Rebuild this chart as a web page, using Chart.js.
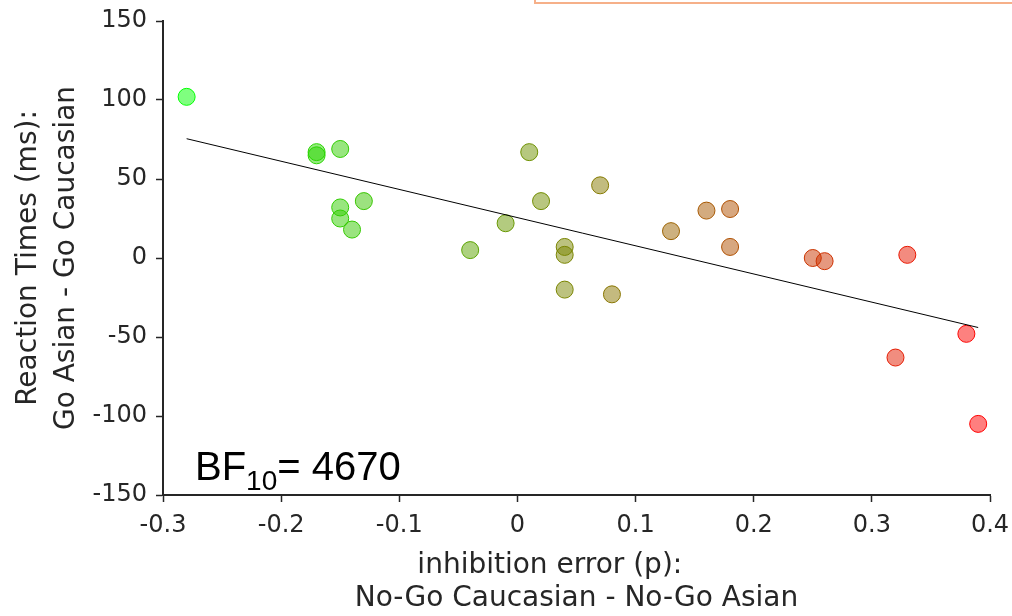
<!DOCTYPE html>
<html lang="en">
<head>
<meta charset="utf-8">
<title>Inhibition error vs reaction times</title>
<script src="https://cdn.jsdelivr.net/npm/chart.js"></script>
<style>
    body { margin: 0; background: #fff; }
    #wrap { position: relative; width: 1012px; height: 616px; overflow: hidden; }
    /* edge of a box that sits above the figure, only its bottom shows */
    #topBox { position: absolute; left: 534px; top: -20px; width: 520px; height: 20px; border: 2px solid #f6b089; }
</style>
</head>
<body>
<div id="wrap">
    <canvas id="scatterChart" width="1012" height="616"></canvas>
    <div id="topBox"></div>
</div>

<script>
    // inhibition error (No-Go Caucasian - No-Go Asian)
    var inhibError = [-0.28, -0.17, -0.17, -0.15, -0.15, -0.15, -0.13, -0.14, -0.04, -0.01,
                      0.01, 0.02, 0.04, 0.04, 0.04, 0.07, 0.08, 0.13, 0.16, 0.18,
                      0.18, 0.25, 0.26, 0.33, 0.32, 0.38, 0.39];
    // reaction times (Go Asian - Go Caucasian), ms
    var rtDiff = [102, 67, 65, 69, 32, 25, 36, 18, 5, 22,
                  67, 36, 7, 2, -20, 46, -23, 17, 30, 31,
                  7, 0, -2, 2, -63, -48, -105];
    // regression line end points
    var fitX = [-0.28, 0.39];
    var fitY = [75.5, -44];

    var xTitle = ['inhibition error (p):      ', 'No-Go Caucasian - No-Go Asian'];
    var yTitle = ['Reaction Times (ms):', 'Go Asian - Go Caucasian'];
    var bfText = { main: 'BF', sub: '10', rest: '= 4670' };

    var axisColor = '#262626';
    var axisFont = '"DejaVu Sans", sans-serif';

    // colour goes from green (low x) to red (high x)
    var xMin = Math.min.apply(null, inhibError);
    var xMax = Math.max.apply(null, inhibError);
    var fillColors = [];
    var edgeColors = [];
    inhibError.forEach(function (x) {
        var t = (x - xMin) / (xMax - xMin);
        var r = Math.round(255 * t);
        var g = Math.round(255 * (1 - t));
        edgeColors.push('rgb(' + r + ',' + g + ',0)');
        fillColors.push('rgba(' + r + ',' + g + ',0,0.5)');
    });

    var points = inhibError.map(function (x, i) { return { x: x, y: rtDiff[i] }; });
    var fitLine = fitX.map(function (x, i) { return { x: x, y: fitY[i] }; });

    var bfLabel = {
        id: 'bfLabel',
        afterDraw: function (chart) {
            var c = chart.ctx;
            var a = chart.chartArea;
            var x = a.left + 32;
            var y = a.bottom - 15;
            c.save();
            c.fillStyle = '#000';
            c.textBaseline = 'alphabetic';
            c.textAlign = 'left';
            c.font = '40px "Liberation Sans", Arial, sans-serif';
            c.fillText(bfText.main, x, y);
            x += c.measureText(bfText.main).width;
            c.font = '28px "Liberation Sans", Arial, sans-serif';
            c.fillText(bfText.sub, x, y + 10);
            x += c.measureText(bfText.sub).width;
            c.font = '40px "Liberation Sans", Arial, sans-serif';
            c.fillText(bfText.rest, x, y);
            c.restore();
        }
    };

    var ctx = document.getElementById('scatterChart').getContext('2d');
    new Chart(ctx, {
        type: 'scatter',
        data: {
            datasets: [{
                type: 'line',
                data: fitLine,
                borderColor: '#000',
                borderWidth: 1,
                pointRadius: 0,
                fill: false,
                order: 0
            }, {
                data: points,
                pointRadius: 8.5,
                pointBorderWidth: 1,
                backgroundColor: fillColors,
                borderColor: edgeColors,
                order: 1
            }]
        },
        options: {
            responsive: false,
            animation: false,
            layout: { padding: { top: 21, right: 22, left: 0, bottom: 0 } },
            plugins: {
                legend: { display: false },
                tooltip: { enabled: false }
            },
            scales: {
                x: {
                    type: 'linear',
                    min: -0.3,
                    max: 0.4,
                    afterFit: function (s) {
                        s.height = 121;
                        s.paddingLeft = 0;
                        s.paddingRight = 0;
                    },
                    ticks: {
                        stepSize: 0.1,
                        autoSkip: false,
                        maxRotation: 0,
                        padding: 9,
                        color: axisColor,
                        font: { family: axisFont, size: 24 },
                        callback: function (v) { return String(Number(v.toFixed(1))); }
                    },
                    grid: { drawOnChartArea: false, tickLength: 7, tickColor: axisColor, tickWidth: 1.5 },
                    border: { color: axisColor, width: 2 },
                    title: {
                        display: true,
                        text: xTitle,
                        color: axisColor,
                        font: { family: axisFont, size: 28, lineHeight: 1.2 },
                        padding: { top: 0, bottom: 0 }
                    }
                },
                y: {
                    min: -150,
                    max: 150,
                    afterFit: function (s) {
                        s.width = 163;
                        s.paddingTop = 0;
                        s.paddingBottom = 0;
                    },
                    ticks: {
                        stepSize: 50,
                        padding: 9,
                        color: axisColor,
                        font: { family: axisFont, size: 24 }
                    },
                    grid: { drawOnChartArea: false, tickLength: 7, tickColor: axisColor, tickWidth: 1.5 },
                    border: { color: axisColor, width: 2 },
                    title: {
                        display: true,
                        text: yTitle,
                        color: axisColor,
                        font: { family: axisFont, size: 28, lineHeight: 1.375 },
                        padding: { top: 9, bottom: 0 }
                    }
                }
            }
        },
        plugins: [bfLabel]
    });
</script>
</body>
</html>
